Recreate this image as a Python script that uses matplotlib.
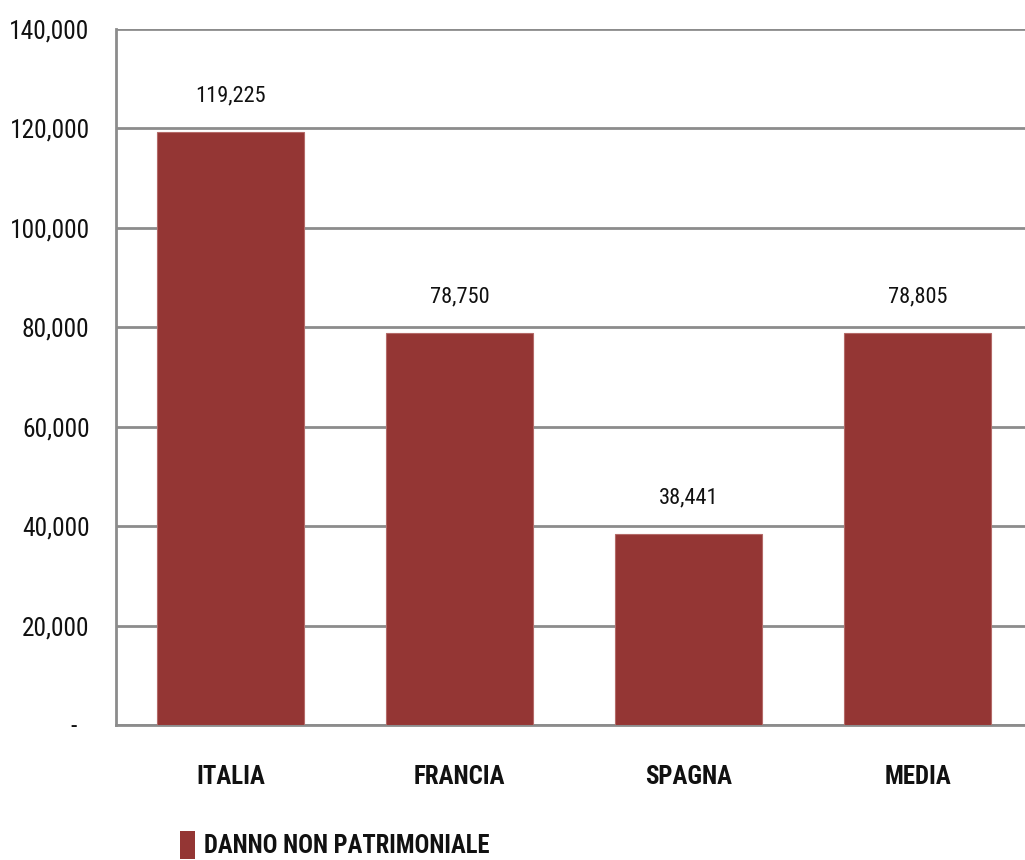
import matplotlib.pyplot as plt
from matplotlib import font_manager
from matplotlib.font_manager import FontProperties
from matplotlib.textpath import TextPath
from matplotlib.patches import Patch
from matplotlib.ticker import FuncFormatter

categories = ["ITALIA", "FRANCIA", "SPAGNA", "MEDIA"]
values = [119225, 78750, 38441, 78805]
series_name = "DANNO NON PATRIMONIALE"
yticks = [0, 20000, 40000, 60000, 80000, 100000, 120000, 140000]

# pick a narrow font if one is around, else Roboto
names = {f.name for f in font_manager.fontManager.ttflist}
font = "Roboto"
stretch = "normal"
for cand in ["Liberation Sans Narrow", "Roboto Condensed", "Open Sans Condensed", "Noto Sans Condensed"]:
    if cand in names:
        font = cand
        break
else:
    cond = [f for f in font_manager.fontManager.ttflist
            if f.name == "DejaVu Sans" and str(f.stretch) in ("condensed", "semi-condensed", "500", "300")]
    if cond:
        font = "DejaVu Sans"
        stretch = "condensed"
plt.rcParams['font.family'] = [font, 'DejaVu Sans']
plt.rcParams['font.stretch'] = stretch


def fit_size(text, target_px, weight="normal"):
    # font size (pt) that makes text about target_px wide at 100 dpi
    fp = FontProperties(family=font, weight=weight, stretch=stretch)
    w = TextPath((0, 0), text, size=10, prop=fp).get_extents().width / 10
    return target_px * 0.72 / w


tick_fs = fit_size("140,000", 77)
val_fs = fit_size("119,225", 68)
cat_fs = fit_size("ITALIA", 67, "bold")
leg_fs = fit_size(series_name, 284, "bold")

bar_color = "#943634"
grid_color = "#8c8c8c"
text_color = "#111111"

fig = plt.figure(figsize=(10.25, 8.6), dpi=100)
ax = fig.add_axes([116/1025, 135/860, 916/1025, 696/860])

x = range(len(categories))
ax.bar(x, values, width=0.642, color=bar_color, edgecolor="#b46a68", linewidth=0.8, zorder=3)

ax.set_xlim(-0.5, 3.5)
ax.set_ylim(0, 140000)
ax.set_yticks(yticks)
ax.yaxis.set_major_formatter(FuncFormatter(lambda v, p: "-  " if v == 0 else f"{int(v):,}"))
ax.grid(axis="y", color=grid_color, linewidth=2, zorder=0)
ax.set_axisbelow(True)

for s in ["top", "right"]:
    ax.spines[s].set_visible(False)
for s in ["left", "bottom"]:
    ax.spines[s].set_color(grid_color)
    ax.spines[s].set_linewidth(2)

ax.tick_params(axis="y", length=0, pad=19, labelsize=tick_fs, labelcolor=text_color)
ax.set_xticks(list(x))
ax.set_xticklabels(categories, fontweight="bold", fontsize=cat_fs, color=text_color)
ax.tick_params(axis="x", length=0, pad=29)

for i, v in enumerate(values):
    ax.annotate(f"{v:,}", (i, v), xytext=(0, 26), textcoords="offset points",
                ha="center", va="center", fontsize=val_fs, color=text_color)

handle = Patch(facecolor=bar_color, edgecolor="none")
leg = fig.legend([handle], [series_name], loc="center left", bbox_to_anchor=(158/1025, 1 - 845/860),
                 frameon=False, handlelength=0.6, handleheight=1.4, handletextpad=0.35,
                 prop={"weight": "bold", "size": leg_fs})
for t in leg.get_texts():
    t.set_color(text_color)

fig.savefig("out.png", dpi=100)
